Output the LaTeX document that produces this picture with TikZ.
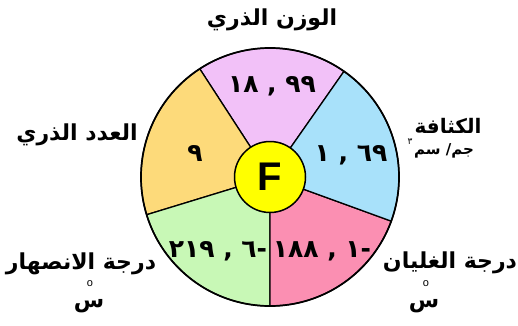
\documentclass[tikz,border=0pt]{standalone}
\usepackage{fontspec}
\TeXXeTstate=1
\newfontfamily\arabicfont[Script=Arabic]{DejaVu Sans}
\newfontfamily\latinsans{Liberation Sans}

\definecolor{wtviolet}{RGB}{242,193,248}
\definecolor{numyellow}{RGB}{253,218,122}
\definecolor{mpgreen}{RGB}{200,248,182}
\definecolor{bppink}{RGB}{251,143,178}
\definecolor{densblue}{RGB}{168,225,250}
\definecolor{coreyellow}{RGB}{255,255,0}

\tikzset{
  numtext/.style={inner sep=0pt,font=\arabicfont\bfseries\fontsize{25}{28}\selectfont},
  labtext/.style={inner sep=0pt,font=\arabicfont\bfseries\fontsize{22}{26}\selectfont},
  degtext/.style={inner sep=0pt,font=\latinsans\fontsize{11}{11}\selectfont}
}

\begin{document}
\begin{tikzpicture}[x=1pt,y=1pt,line join=round,line cap=round]

  \useasboundingbox (0,0) rectangle (518,325);
  \coordinate (ctr) at (270,148);

  % ---- pie sectors ----
  \foreach \a/\b/\col in {55/123/wtviolet,123/197/numyellow,197/270/mpgreen,270/340/bppink,340/415/densblue}
    \filldraw[fill=\col,line width=1.3pt] (ctr) -- ++(\a:129) arc[start angle=\a,end angle=\b,radius=129] -- cycle;
  \draw[line width=1.7pt] (ctr) circle[radius=129];

  % ---- centre ----
  \node[circle,draw,line width=1.5pt,fill=coreyellow,minimum size=71pt,inner sep=0pt,
        font=\latinsans\bfseries\fontsize{40}{40}\selectfont] (elem) at (ctr) {F};

  % ---- values ----
  \node[numtext] (wtval) at (272,239) {\beginR ٩٩ , ١٨\endR};
  \node[numtext] (numval) at (195,172) {٩};
  \node[numtext] (densval) at (351,170) {\beginR ٦٩ , ١\endR};
  \node[numtext] (mpval) at (218,74) {\beginR -٦ , ٢١٩\endR};
  \node[numtext] (bpval) at (322,74) {\beginR -١ , ١٨٨\endR};

  % ---- labels ----
  \node[labtext] (wtlab) at (272,305) {\beginR الوزن الذري\endR};
  \node[labtext] (numlab) at (77,190) {\beginR العدد الذري\endR};
  \node[labtext,font=\arabicfont\bfseries\fontsize{20}{24}\selectfont] (denslab) at (448,199) {\beginR الكثافة\endR};
  \node[inner sep=0pt,font=\arabicfont\bfseries\fontsize{15}{18}\selectfont] (densunit) at (444,174) {\beginR جم/ سم\endR};
  \node[inner sep=0pt,font=\arabicfont\fontsize{9}{10}\selectfont] (denssup) at (410,183) {٣};
  \node[labtext] (mplab) at (81,61) {\beginR درجة الانصهار\endR};
  \node[labtext] (mpunit) at (89,19) {\beginR س\endR};
  \node[degtext] (mpdeg) at (90,41) {o};
  \node[labtext] (bplab) at (450,62) {\beginR درجة الغليان\endR};
  \node[labtext] (bpunit) at (424,19) {\beginR س\endR};
  \node[degtext] (bpdeg) at (426,41) {o};

\end{tikzpicture}
\end{document}
